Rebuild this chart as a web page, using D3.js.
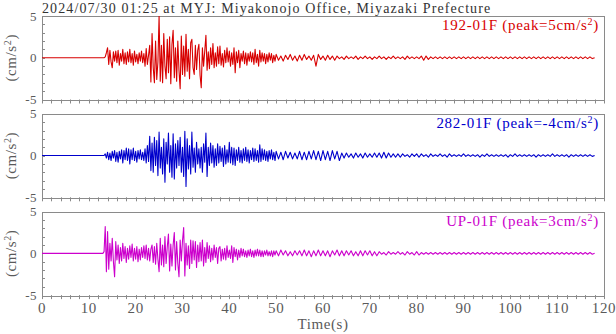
<!DOCTYPE html>
<html><head><meta charset="utf-8">
<script src="https://cdn.jsdelivr.net/npm/d3@7"></script>
<style>body{margin:0;background:#fff}svg{display:block}</style>
</head><body><svg id="c" width="616" height="334"></svg>
<script>
const title = "2024/07/30 01:25 at MYJ: Miyakonojo Office, Miyazaki Prefecture";
const channels = ["192-01F", "282-01F", "UP-01F"];
const peaks = ["5", "-4", "3"];
const colors = ["#d80000", "#0000cc", "#cc00cc"];
const yTicks = [-5, 0, 5];
const xTicks = [0, 10, 20, 30, 40, 50, 60, 70, 80, 90, 100, 110, 120];
const xLabel = "Time(s)";
const recordStart = 0;
const strongStart = 13, strongDt = 0.25;
const codaStart = 50, codaDt = 0.5;

const nsStrong = [
0,0,0.1,0.6, 1.2,-0.8,0.9,-0.5, -1.2,0.7,-0.4,0.8, -0.6,0.9,-0.9,0.5, -0.4,1.0,-0.7,0.6,
-0.8,0.7,-0.5,1.0, -0.6,0.5,-0.9,0.8, -0.5,0.4,-0.7,0.6, -0.4,0.8,-0.6,0.5, -1.0,1.1,-0.8,0.3,
1.5,-2.9,2.9,-1.2, -3.0,2.0,-2.6,-0.5, 5.0,-2.8,1.5,-3.0, 2.9,-1.0,-2.5,2.2, -1.8,2.5,-3.1,1.6,
3.3,-2.4,1.2,-2.8, 2.0,-1.5,-3.7,2.6, -2.0,1.4,-2.2,2.8, -1.6,1.0,-2.5,1.8, 2.2,-1.2,-2.0,1.5,
-1.4,0.9,1.6,-2.1, -3.6,1.2,-1.0,0.8, 2.7,-1.5,0.7,-1.3, 1.2,-0.8,1.7,-1.2, 0.6,-1.0,1.3,-0.7,
1.4,-0.9,0.5,-1.1, 0.9,-0.6,1.2,-0.5, 0.8,-1.0,0.6,-0.8, 1.2,-1.8,0.7,-0.6, 0.9,-1.2,0.5,-0.4,
0.8,-0.7,0.6,-0.9, 0.5,-0.4,0.7,-0.5, 0.6,-0.8,1.0,-0.6, 0.4,-1.0,0.9,-0.5, 0.6,-0.4,0.5,-0.7,
0.4,-0.5,0.6,-0.3, 0.5,-0.6,0.3,-0.4];
const nsCoda = [
0.4,-0.3, 0.2,-0.4, 0.3,-0.2, 0.4,-0.3, 0.2,-0.4, 0.3,-0.3, 0.4,-0.2, 0.2,-0.3, 0.3,-1.0, 0.4,-0.2,
0.2,-0.3, 0.3,-0.2, 0.2,-0.3,
0.2,-0.1, 0.1,-0.2, 0.2,-0.1, 0.1,-0.1, 0.2,-0.2, 0.1,-0.1, 0.2,-0.1, 0.1,-0.2, 0.1,-0.1, 0.2,-0.1,
0.1,-0.2, 0.1,-0.1, 0.2,-0.1, 0.1,-0.1, 0.1,-0.2, 0.2,-0.1, 0.1,-0.1, 0.1,-0.1, 0.2,-0.3, 0.2,-0.2,
0.1,-0.1, 0.1,-0.1, 0.1,-0.1, 0.1,-0.1, 0.1,-0.1, 0.1,-0.1, 0.1,-0.1, 0.1,-0.1, 0.1,-0.1, 0.1,-0.1,
0.1,-0.1, 0.1,-0.1, 0.1,-0.1, 0.1,-0.1, 0.1,-0.1, 0.1,-0.1, 0.1,-0.1, 0.1,-0.1, 0.1,-0.1, 0.1,-0.1,
0.1,-0.1, 0.1,-0.1, 0.1,-0.1, 0.1,-0.1, 0.1,-0.1, 0.1,-0.1, 0.1,-0.1, 0.1,-0.1, 0.1,-0.1, 0.1,-0.1,
0.1,-0.1, 0.1,-0.1, 0.1,-0.1, 0.1,-0.1, 0.1,-0.1, 0.0];

const ewStrong = [
0,0,0.2,-0.3, 0.4,-0.5,0.3,-0.6, 0.5,-0.3,0.6,-0.7, 0.4,-0.8,0.5,-0.4, 0.7,-0.9,0.6,-0.5,
0.9,-0.6,0.8,-1.0, 0.7,-0.5,0.9,-0.6, 0.5,-0.8,0.6,-0.4, 0.7,-0.5,0.4,-0.6, 0.8,-0.9,1.2,-0.7,
2.3,-1.8,1.5,-2.0, 2.2,-1.2,1.8,-2.4, 2.8,-1.5,1.0,-2.2, 2.0,-3.2,1.6,-1.0, 2.7,-2.0,1.2,-2.6,
2.6,-2.8,1.4,-1.5, 1.8,-1.2,2.2,-2.0, 1.0,-2.5,2.9,-3.7, 2.0,-1.6,1.2,-2.2, 2.8,-1.4,0.9,-2.0,
1.6,-1.0,0.8,-1.5, 1.0,-2.0,1.4,-0.8, 2.7,-2.5,1.0,-1.2, 1.5,-0.9,1.2,-1.4, 0.8,-1.2,1.4,-0.9,
1.1,-0.7,0.9,-1.3, 1.2,-1.0,0.7,-0.8, 1.6,-0.9,1.0,-1.1, 0.9,-1.2,0.7,-0.6, 1.0,-0.8,0.6,-0.9,
0.8,-0.6,1.0,-0.7, 0.7,-0.9,0.6,-0.5, 0.9,-0.7,0.8,-0.6, 0.6,-0.8,1.3,-0.7, 0.8,-0.5,0.7,-0.6,
0.5,-0.7,0.6,-0.4, 0.7,-0.5,0.4,-0.6];
const ewCoda = [
0.5,-0.4, 0.4,-0.5, 0.5,-0.3, 0.4,-0.4, 0.3,-0.4, 0.5,-0.5, 0.4,-0.5, 0.5,-0.4, 0.6,-0.5, 0.5,-0.6,
0.6,-0.5, 0.5,-0.6, 0.6,-0.4, 0.5,-0.6, 0.3,-0.3, 0.3,-0.2, 0.2,-0.3, 0.3,-0.2, 0.2,-0.3, 0.3,-0.2,
0.2,-0.2, 0.3,-0.2, 0.3,-0.3, 0.4,-0.3, 0.3,-0.2, 0.2,-0.2, 0.2,-0.2, 0.2,-0.1, 0.1,-0.2, 0.2,-0.1,
0.2,-0.2, 0.2,-0.1, 0.1,-0.2, 0.2,-0.1, 0.1,-0.1, 0.2,-0.1, 0.1,-0.2, 0.2,-0.1, 0.1,-0.1, 0.1,-0.1,
0.2,-0.1, 0.1,-0.1, 0.1,-0.1, 0.1,-0.2, 0.1,-0.1, 0.2,-0.1, 0.1,-0.1, 0.1,-0.1, 0.1,-0.1, 0.1,-0.2,
0.1,-0.1, 0.2,-0.1, 0.1,-0.1, 0.1,-0.1, 0.1,-0.1, 0.1,-0.2, 0.1,-0.1, 0.1,-0.1, 0.1,-0.1, 0.2,-0.1,
0.1,-0.1, 0.1,-0.1, 0.1,-0.2, 0.1,-0.1, 0.1,-0.1, 0.1,-0.1, 0.1,-0.1, 0.1,-0.1, 0.0];

const udStrong = [
0,0.2,3.2,-2.2, 2.6,-1.9,1.2,-0.9, 1.8,-1.0,-2.8,1.4, -0.8,1.0,-1.2,0.7, -0.9,1.2,-0.6,0.8,
-1.1,0.6,-0.7,0.9, -0.5,1.1,-0.9,0.6, -0.7,0.8,-1.0,0.5, -0.8,0.7,-0.5,0.9, -0.6,1.0,-0.8,0.6,
-0.9,0.5,1.0,-1.1, 0.8,-1.3,1.2,-0.7, -2.2,1.8,-1.4,1.0, -1.6,2.0,-1.2,0.8, 2.3,-2.1,1.1,-1.5,
1.0,2.5,-2.0,1.4, -1.2,-2.8,1.6,-0.9, 1.5,3.1,-2.7,1.2, -1.4,0.9,-1.8,1.6, -1.2,1.5,-0.8,1.4,
-1.7,1.0,-1.0,1.3, -0.9,1.6,-1.5,0.7, -1.1,1.3,-0.6,0.9, -1.0,0.6,-0.8,1.0, -0.5,0.7,-1.2,0.6,
0.8,-0.9,0.5,-0.7, 0.6,-0.8,0.9,-0.5, 0.4,-0.6,0.9,-1.1, 0.7,-0.4,0.5,-0.8, 0.4,-0.5,0.6,-0.3,
0.5,-0.4,0.3,-0.5, 0.4,-0.3,0.5,-0.4, 0.3,-0.5,0.4,-0.3, 0.5,-0.3,0.4,-0.4, 0.3,-0.4,0.3,-0.2,
0.4,-0.3,0.2,-0.3, 0.3,-0.4,0.3,-0.2];
const udCoda = [
0.3,-0.3, 0.4,-0.2, 0.3,-0.3, 0.2,-0.3, 0.3,-0.2, 0.3,-0.3, 0.4,-0.3, 0.3,-0.4, 0.3,-0.3, 0.4,-0.3,
0.3,-0.3, 0.3,-0.4, 0.3,-0.2, 0.4,-0.3, 0.3,-0.3, 0.3,-0.2, 0.3,-0.3, 0.2,-0.3, 0.3,-0.3, 0.3,-0.2,
0.3,-0.3, 0.2,-0.3, 0.2,-0.1, 0.1,-0.2, 0.2,-0.1, 0.1,-0.1, 0.2,-0.1, 0.1,-0.2, 0.2,-0.1, 0.1,-0.2,
0.2,-0.2, 0.1,-0.1, 0.1,-0.1, 0.1,-0.1, 0.1,-0.1, 0.1,-0.1, 0.1,-0.1, 0.1,-0.1, 0.1,-0.1, 0.1,-0.1,
0.1,-0.1, 0.1,-0.1, 0.1,-0.1, 0.1,-0.1, 0.1,-0.1, 0.1,-0.1, 0.1,-0.1, 0.1,-0.1, 0.1,-0.1, 0.1,-0.1,
0.1,-0.1, 0.1,-0.1, 0.1,-0.1, 0.1,-0.1, 0.1,-0.1, 0.1,-0.1, 0.1,-0.1, 0.1,-0.1, 0.1,-0.1, 0.1,-0.1,
0.1,-0.1, 0.1,-0.1, 0.1,-0.1, 0.1,-0.1, 0.1,-0.1, 0.1,-0.1, 0.1,-0.1, 0.1,-0.1, 0.0];

const seriesStrong = [nsStrong, ewStrong, udStrong];
const seriesCoda = [nsCoda, ewCoda, udCoda];

function buildPoints(strong, coda) {
  const pts = [[recordStart, 0]];
  strong.forEach((v, i) => pts.push([strongStart + i * strongDt, v]));
  coda.forEach((v, i) => pts.push([codaStart + i * codaDt, v]));
  return pts;
}

const svg = d3.select("#c");
const W = 616, H = 334;
const m = {left: 42, right: 12, top: 16};
const panelH = 83.5, panelGap = 14.3;
const axisColor = "#8a8a8a", textColor = "#5a5a5a";
const font = "'Liberation Serif','Times New Roman',serif";

const x = d3.scaleLinear().domain([0, 120]).range([m.left, W - m.right]);

svg.append("text").attr("x", 42).attr("y", 12.5)
  .attr("font-family", font).attr("font-size", 14).attr("letter-spacing", 1.1)
  .attr("fill", "#333")
  .text(title);

channels.forEach((ch, k) => {
  const top = m.top + k * (panelH + panelGap);
  const y = d3.scaleLinear().domain([-5, 5]).range([top + panelH, top]);
  const g = svg.append("g");
  const clipId = "clip" + k;
  svg.append("clipPath").attr("id", clipId).append("rect")
    .attr("x", x(0)).attr("y", top).attr("width", x(120) - x(0)).attr("height", panelH);

  const yMinor = d3.range(-4, 5);
  g.selectAll(".ym").data(yMinor).join("line")
    .attr("x1", x(0)).attr("x2", x(0) + 3)
    .attr("y1", d => Math.round(y(d)) + 0.5).attr("y2", d => Math.round(y(d)) + 0.5)
    .attr("stroke", axisColor).attr("stroke-width", 1);

  const xt = d3.range(0, 121, 2);
  g.selectAll(".xt").data(xt).join("line")
    .attr("x1", d => Math.round(x(d)) + 0.5).attr("x2", d => Math.round(x(d)) + 0.5)
    .attr("y1", top + panelH).attr("y2", top + panelH + 4)
    .attr("stroke", axisColor).attr("stroke-width", 1);

  g.append("rect").attr("x", Math.round(x(0)) + 0.5).attr("y", Math.round(top) + 0.5)
    .attr("width", Math.round(x(120) - x(0))).attr("height", Math.round(panelH))
    .attr("fill", "none").attr("stroke", axisColor).attr("stroke-width", 1);

  g.selectAll(".yl").data(yTicks).join("text")
    .attr("x", x(0) - 5).attr("y", d => y(d) + 4.5)
    .attr("text-anchor", "end").attr("font-family", font).attr("font-size", 13)
    .attr("letter-spacing", 0.5)
    .attr("fill", textColor).text(d => d);

  const yl = g.append("text")
    .attr("transform", `translate(16,${top + panelH / 2}) rotate(-90)`)
    .attr("text-anchor", "middle").attr("font-family", font).attr("font-size", 15)
    .attr("letter-spacing", 0.6)
    .attr("fill", textColor);
  yl.append("tspan").text("(cm/s");
  yl.append("tspan").attr("dy", -5).attr("font-size", 10).text("2");
  yl.append("tspan").attr("dy", 5).text(")");

  const pts = buildPoints(seriesStrong[k], seriesCoda[k]);
  const line = d3.line().x(d => x(d[0])).y(d => y(d[1]));
  g.append("path").datum(pts).attr("d", line)
    .attr("clip-path", `url(#${clipId})`)
    .attr("fill", "none").attr("stroke", colors[k]).attr("stroke-width", 1.1)
    .attr("stroke-linejoin", "round");

  const lab = g.append("text").attr("x", x(120) - 5).attr("y", top + 14)
    .attr("text-anchor", "end").attr("font-family", font).attr("font-size", 15)
    .attr("letter-spacing", 0.7)
    .attr("fill", colors[k]);
  lab.append("tspan").text(`${ch} (peak=${peaks[k]}cm/s`);
  lab.append("tspan").attr("dy", -5).attr("font-size", 10).text("2");
  lab.append("tspan").attr("dy", 5).text(")");

  if (k === channels.length - 1) {
    g.selectAll(".xl").data(xTicks).join("text")
      .attr("x", d => x(d)).attr("y", top + panelH + 18)
      .attr("text-anchor", "middle").attr("font-family", font).attr("font-size", 15)
      .attr("letter-spacing", 0.6)
      .attr("fill", textColor).text(d => d);
    g.append("text").attr("x", (x(0) + x(120)) / 2).attr("y", top + panelH + 34)
      .attr("text-anchor", "middle").attr("font-family", font).attr("font-size", 15)
      .attr("letter-spacing", 0.6)
      .attr("fill", textColor).text(xLabel);
  }
});
</script>
</body></html>
